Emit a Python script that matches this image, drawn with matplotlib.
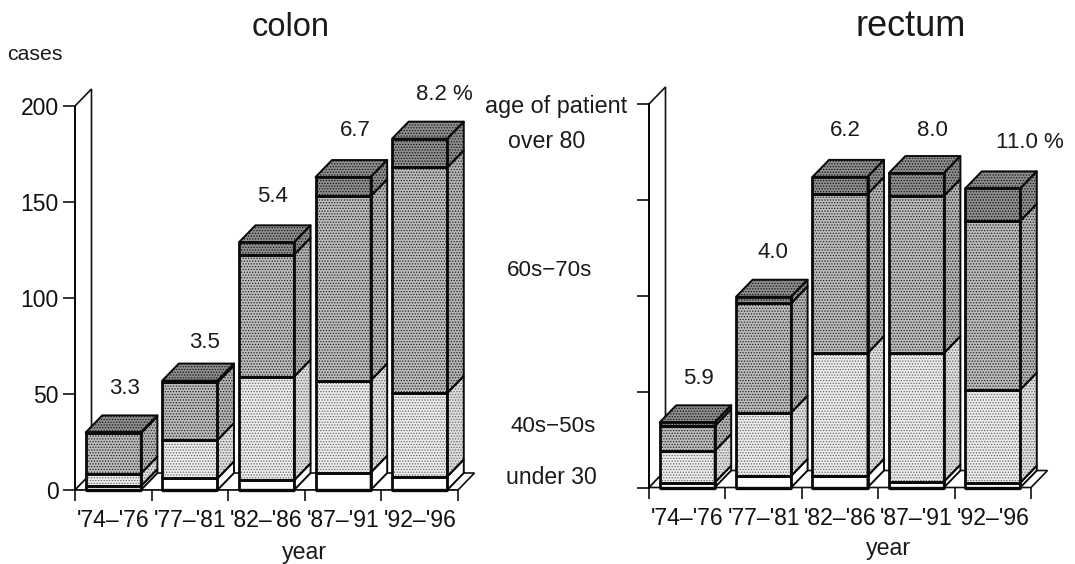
import matplotlib
matplotlib.use('Agg')
import matplotlib.pyplot as plt
from matplotlib.patches import Polygon

plt.rcParams['font.family'] = ['Liberation Sans', 'DejaVu Sans']
plt.rcParams['hatch.linewidth'] = 0.6

W, H = 1075, 564

years = ["'74–'76", "'77–'81", "'82–'86", "'87–'91", "'92–'96"]
age_groups = ['under 30', '40s-50s', '60s-70s', 'over 80']

# cumulative tops of each age group
colon_under30 = [2, 6, 5, 9, 7]
colon_40s50s = [8.5, 26, 59, 57, 50.5]
colon_60s70s = [29.5, 56, 122.5, 153, 168]
colon_over80 = [30, 57, 129, 163, 183]
colon_pct = ['3.3', '3.5', '5.4', '6.7', '8.2 %']

rectum_under30 = [2.5, 6, 6, 3, 2.5]
rectum_40s50s = [19, 39, 70, 70, 51]
rectum_60s70s = [32, 96, 153, 152, 139]
rectum_over80 = [34, 99.5, 162, 164, 156]
rectum_pct = ['5.9', '4.0', '6.2', '8.0', '11.0 %']

y_ticks = [0, 50, 100, 150, 200]

colon_pct_pos = [(125, 388), (205, 343), (273, 197), (355, 131), (444, 94)]
rectum_pct_pos = [(698, 379), (773, 252), (845, 131), (932, 131), (1030, 142)]

# front face, side face, hatch dots
styles = [
    ('white', 'white', None),
    ('#ececec', '#dedede', '#666666'),
    ('#bcbcbc', '#b4b4b4', '#222222'),
    ('#8e8e8e', '#8e8e8e', '#111111'),
]
top_style = ('#8e8e8e', None, '#111111')

fig = plt.figure(figsize=(W / 100, H / 100), dpi=100)


def ftext(x, y, s, size=15):
    fig.text(x / W, 1 - y / H, s, fontsize=size, ha='center', va='center', color='#1a1a1a')


def face(ax, pts, color, dots, z, lw=2.0):
    if dots:
        ax.add_patch(Polygon(pts, facecolor=color, edgecolor=dots, hatch='.' * 6, lw=0, zorder=z, clip_on=False))
    else:
        ax.add_patch(Polygon(pts, facecolor=color, edgecolor='none', zorder=z, clip_on=False))
    ax.add_patch(Polygon(pts, fill=False, edgecolor='#0a0a0a', lw=lw, joinstyle='round', zorder=z + 0.5, clip_on=False))


def panel(x0, x1, y0, y200, tops, show_labels):
    ax = fig.add_axes([x0 / W, 1 - y0 / H, (x1 - x0) / W, (y0 - y200) / H])
    ax.set_xlim(0, 5)
    ax.set_ylim(0, 200)
    ax.patch.set_visible(False)
    for s in ['top', 'right', 'bottom']:
        ax.spines[s].set_visible(False)
    ax.spines['left'].set_linewidth(1.2)

    dx = 16.5 / ((x1 - x0) / 5)
    dy = 17 / ((y0 - y200) / 200)

    # back wall and floor
    ax.add_patch(Polygon([(0, 0), (0, 200), (dx, 200 + dy), (dx, dy)], facecolor='white', edgecolor='#111111', lw=1.2, zorder=1, clip_on=False))
    ax.add_patch(Polygon([(0, 0), (5, 0), (5 + dx, dy), (dx, dy)], facecolor='white', edgecolor='#111111', lw=1.2, zorder=1, clip_on=False))

    off, wid = 0.14, 0.72
    for i in range(5):
        left = i + off
        right = left + wid
        low = 0
        for g in range(4):
            top = tops[g][i]
            front, side, dots = styles[g]
            z = 3 + i
            face(ax, [(right, low), (right + dx, low + dy), (right + dx, top + dy), (right, top)], side, dots, z, lw=1.4)
            face(ax, [(left, low), (right, low), (right, top), (left, top)], front, dots, z + 0.1)
            low = top
        face(ax, [(left, low), (right, low), (right + dx, low + dy), (left + dx, low + dy)], top_style[0], top_style[2], 3 + i, lw=1.4)
        ax.plot([left, right], [0, 0], color='#0a0a0a', lw=2.4, zorder=4 + i, clip_on=False, solid_capstyle='butt')

    ax.set_yticks(y_ticks)
    ax.set_yticklabels(y_ticks if show_labels else [], fontsize=16.5)
    ax.tick_params(axis='y', length=8.6, width=1.2, pad=3, colors='#111111')
    ax.set_xticks(range(6))
    ax.set_xticklabels([])
    ax.tick_params(axis='x', which='major', length=8, width=1.2, colors='#111111')
    ax.set_xticks([i + 0.5 for i in range(5)], minor=True)
    ax.set_xticklabels(years, minor=True, fontsize=16.6)
    ax.tick_params(axis='x', which='minor', length=0, pad=14, colors='#111111')
    ax.axhline(0, xmin=0, xmax=1, color='#111111', lw=1.2, zorder=2)
    return ax


panel(75, 458, 490, 106, [colon_under30, colon_40s50s, colon_60s70s, colon_over80], True)
panel(649, 1031, 487.5, 104, [rectum_under30, rectum_40s50s, rectum_60s70s, rectum_over80], False)

ftext(291, 27, 'colon', 23.5)
ftext(911, 26, 'rectum', 26)
ftext(35, 54, 'cases', 15.3)
ftext(304, 553, 'year', 16.7)
ftext(888, 549, 'year', 16.7)

ftext(556, 106, 'age of patient', 16.8)
ftext(547, 141, age_groups[3], 16.7)
ftext(549, 270, '60s−70s', 16.1)
ftext(553, 426, '40s−50s', 16.1)
ftext(551, 478, age_groups[0], 16.6)

for (x, y), s in zip(colon_pct_pos, colon_pct):
    ftext(x, y, s, 16)
for (x, y), s in zip(rectum_pct_pos, rectum_pct):
    ftext(x, y, s, 16)

fig.savefig('out.png', dpi=100)
